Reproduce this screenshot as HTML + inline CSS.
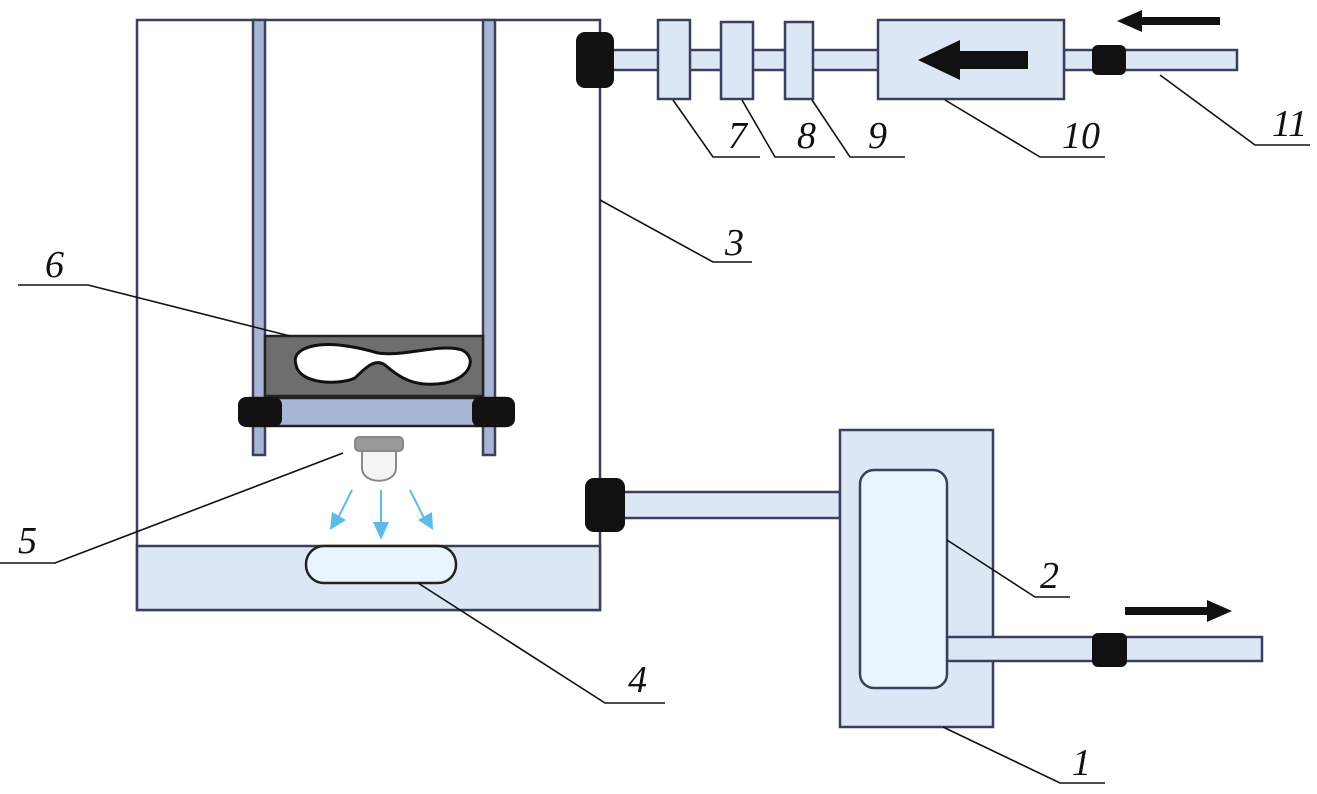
<!DOCTYPE html>
<html><head><meta charset="utf-8"><style>
html,body{margin:0;padding:0;background:#fff;}
svg{display:block;}
text{font-family:"Liberation Serif",serif;font-style:italic;font-size:38px;fill:#111;}
</style></head><body>
<svg width="1317" height="794" viewBox="0 0 1317 794" xmlns="http://www.w3.org/2000/svg">
<g stroke="#3a3f5c" stroke-width="2.5">
 <rect x="137" y="20" width="463" height="590" fill="#fff"/>
 <rect x="137" y="546" width="463" height="64" fill="#dde6f4"/>
 <rect x="253" y="20" width="12" height="435" fill="#a9b5d4"/>
 <rect x="483" y="20" width="12" height="435" fill="#a9b5d4"/>
 <rect x="265" y="336" width="218" height="60" fill="#6e6e6e" stroke="#222"/>
 <rect x="250" y="398" width="255" height="28" fill="#a9b5d4" stroke="#222"/>
 <rect x="306" y="546" width="150" height="37" rx="18" fill="#eaf4fd" stroke="#222"/>
 <rect x="610" y="50" width="270" height="20" fill="#dde6f4"/>
 <rect x="1064" y="50" width="173" height="20" fill="#dde6f4"/>
 <rect x="620" y="492" width="220" height="26" fill="#dde6f4"/>
 <rect x="658" y="20" width="32" height="79" fill="#dde6f4"/>
 <rect x="721" y="22" width="32" height="77" fill="#dde6f4"/>
 <rect x="785" y="22" width="28" height="77" fill="#dde6f4"/>
 <rect x="878" y="20" width="186" height="79" fill="#dde6f4"/>
 <rect x="840" y="430" width="153" height="297" fill="#dde6f4"/>
 <rect x="947" y="637" width="315" height="24" fill="#dde6f4"/>
 <rect x="860" y="470" width="87" height="218" rx="14" fill="#eaf4fd"/>
</g>
<path d="M302 350 C320 340,350 345,378 353 C405 357,440 343,462 350 C478 358,470 378,445 383 C415 388,400 378,385 365 C375 358,365 368,355 378 C340 385,300 385,296 365 C294 358,296 354,302 350Z" fill="#fff" stroke="#111" stroke-width="3"/>
<g fill="#111">
 <rect x="238" y="397" width="44" height="30" rx="8"/>
 <rect x="472" y="397" width="43" height="30" rx="8"/>
 <rect x="576" y="32" width="38" height="56" rx="9"/>
 <rect x="585" y="478" width="40" height="54" rx="9"/>
 <rect x="1092" y="45" width="34" height="30" rx="6"/>
 <rect x="1092" y="633" width="35" height="34" rx="6"/>
 <rect x="958" y="51" width="70" height="18"/>
 <polygon points="918,60 960,40 960,80"/>
 <rect x="1140" y="17" width="80" height="8"/>
 <polygon points="1117,21 1142,10 1142,32"/>
 <rect x="1125" y="607" width="85" height="8"/>
 <polygon points="1232,611 1207,600 1207,622"/>
</g>
<g stroke="#888" stroke-width="2" fill="#e8e8e8">
 <rect x="355" y="437" width="48" height="14" rx="4" fill="#999"/>
 <path d="M362 451 L396 451 L396 468 C396 485,362 485,362 468Z" fill="#f4f4f4"/>
</g>
<g stroke="#5bbde6" stroke-width="2" fill="#5bbde6">
 <line x1="352" y1="490" x2="338" y2="518"/><polygon points="330,530 332,512 346,520" stroke="none"/>
 <line x1="381" y1="490" x2="381" y2="525"/><polygon points="381,540 373,522 389,522" stroke="none"/>
 <line x1="410" y1="490" x2="424" y2="518"/><polygon points="433,530 418,520 432,512" stroke="none"/>
</g>
<g stroke="#111" stroke-width="1.6" fill="none">
 <polyline points="600,200 713,262 752,262"/>
 <polyline points="290,336 88,285 18,285"/>
 <polyline points="343,453 55,563 0,563"/>
 <polyline points="418,583 605,703 665,703"/>
 <polyline points="947,540 1035,597 1070,597"/>
 <polyline points="943,727 1060,783 1105,783"/>
 <polyline points="673,100 713,157 760,157"/>
 <polyline points="742,100 775,157 835,157"/>
 <polyline points="812,100 850,157 905,157"/>
 <polyline points="945,100 1040,157 1105,157"/>
 <polyline points="1160,75 1255,145 1310,145"/>
</g>
<text x="725" y="255">3</text>
<text x="45" y="277">6</text>
<text x="18" y="553">5</text>
<text x="628" y="692">4</text>
<text x="1040" y="588">2</text>
<text x="1072" y="775">1</text>
<text x="728" y="148">7</text>
<text x="797" y="148">8</text>
<text x="868" y="148">9</text>
<text x="1062" y="148">10</text>
<text x="1272" y="136">11</text>
</svg>
</body></html>
